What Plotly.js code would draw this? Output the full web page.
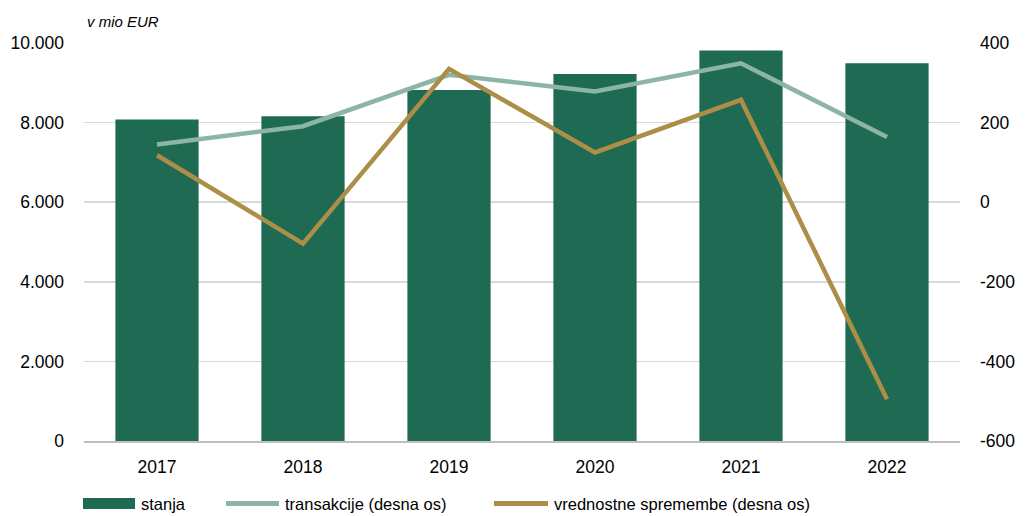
<!DOCTYPE html>
<html>
<head>
<meta charset="utf-8">
<script src="https://cdn.plot.ly/plotly-3.0.1.min.js"></script>
<style>html,body{margin:0;padding:0;background:#fff;}#chart{width:1030px;height:516px;}</style>
</head>
<body>
<div id="chart"></div>
<script>
const years = ['2017', '2018', '2019', '2020', '2021', '2022'];
const stanja = [8080, 8160, 8820, 9220, 9810, 9490];
const transakcije = [145, 191, 320, 278, 349, 164];
const vrednostne = [118, -104, 335, 125, 257, -495];
const leftTicks = [0, 2000, 4000, 6000, 8000, 10000];
const leftTickText = ['0', '2.000', '4.000', '6.000', '8.000', '10.000'];
const rightTicks = [-600, -400, -200, 0, 200, 400];
const rightTickText = ['-600', '-400', '-200', '0', '200', '400'];
const seriesNames = ['stanja', 'transakcije (desna os)', 'vrednostne spremembe (desna os)'];
const colors = ['#1F6A52', '#8DB5A5', '#AD8E48'];

const FAM = '"Liberation Sans", Arial, sans-serif';
const tickFont = {family: FAM, size: 17.5, color: '#000'};
const legFont = {family: FAM, size: 16.5, color: '#000'};

const traces = [
  {type: 'bar', x: years, y: stanja, name: seriesNames[0], marker: {color: colors[0]}, yaxis: 'y'},
  {type: 'scatter', mode: 'lines', x: years, y: transakcije, name: seriesNames[1], line: {color: colors[1], width: 4.5}, yaxis: 'y2'},
  {type: 'scatter', mode: 'lines', x: years, y: vrednostne, name: seriesNames[2], line: {color: colors[2], width: 4.5}, yaxis: 'y2'}
];

// custom legend geometry (paper coordinates of the plot area: x 84..960, y 441..43)
const px = p => (p - 84) / 876;
const py = p => (441 - p) / 398;
const legY = py(503.5);

const layout = {
  width: 1030, height: 516,
  margin: {l: 84, r: 70, t: 43, b: 75},
  paper_bgcolor: '#fff', plot_bgcolor: '#fff',
  font: tickFont,
  bargap: 0.43,
  showlegend: false,
  xaxis: {type: 'category', tickfont: tickFont, showgrid: false, showline: true, linecolor: '#BFBFBF', linewidth: 1.5, ticks: '', ticklabelstandoff: 9, automargin: false},
  yaxis: {range: [0, 10000], tickvals: leftTicks, ticktext: leftTickText, tickfont: tickFont, showgrid: true, gridcolor: '#D9D9D9', gridwidth: 1.5, zeroline: false, ticks: '', ticklabelstandoff: 19, automargin: false},
  yaxis2: {range: [-600, 400], overlaying: 'y', side: 'right', tickvals: rightTicks, ticktext: rightTickText, tickfont: tickFont, showgrid: false, zeroline: false, ticks: '', ticklabelstandoff: 19, automargin: false},
  shapes: [
    {type: 'rect', xref: 'paper', yref: 'paper', x0: px(83), x1: px(135), y0: py(509), y1: py(498), fillcolor: colors[0], line: {width: 0}},
    {type: 'line', xref: 'paper', yref: 'paper', x0: px(226), x1: px(279), y0: legY, y1: legY, line: {color: colors[1], width: 5}},
    {type: 'line', xref: 'paper', yref: 'paper', x0: px(494), x1: px(548), y0: legY, y1: legY, line: {color: colors[2], width: 5}}
  ],
  annotations: [
    {xref: 'paper', yref: 'paper', x: 0.001, y: 1.0, yshift: 22, xanchor: 'left', yanchor: 'middle', text: '<i>v mio EUR</i>', showarrow: false, font: {family: FAM, size: 15, color: '#000'}},
    {xref: 'paper', yref: 'paper', x: px(139), y: legY, xanchor: 'left', yanchor: 'middle', text: seriesNames[0], showarrow: false, font: legFont},
    {xref: 'paper', yref: 'paper', x: px(283), y: legY, xanchor: 'left', yanchor: 'middle', text: seriesNames[1], showarrow: false, font: legFont},
    {xref: 'paper', yref: 'paper', x: px(552), y: legY, xanchor: 'left', yanchor: 'middle', text: seriesNames[2], showarrow: false, font: legFont}
  ]
};

Plotly.newPlot('chart', traces, layout, {displayModeBar: false, staticPlot: true});
</script>
</body>
</html>
